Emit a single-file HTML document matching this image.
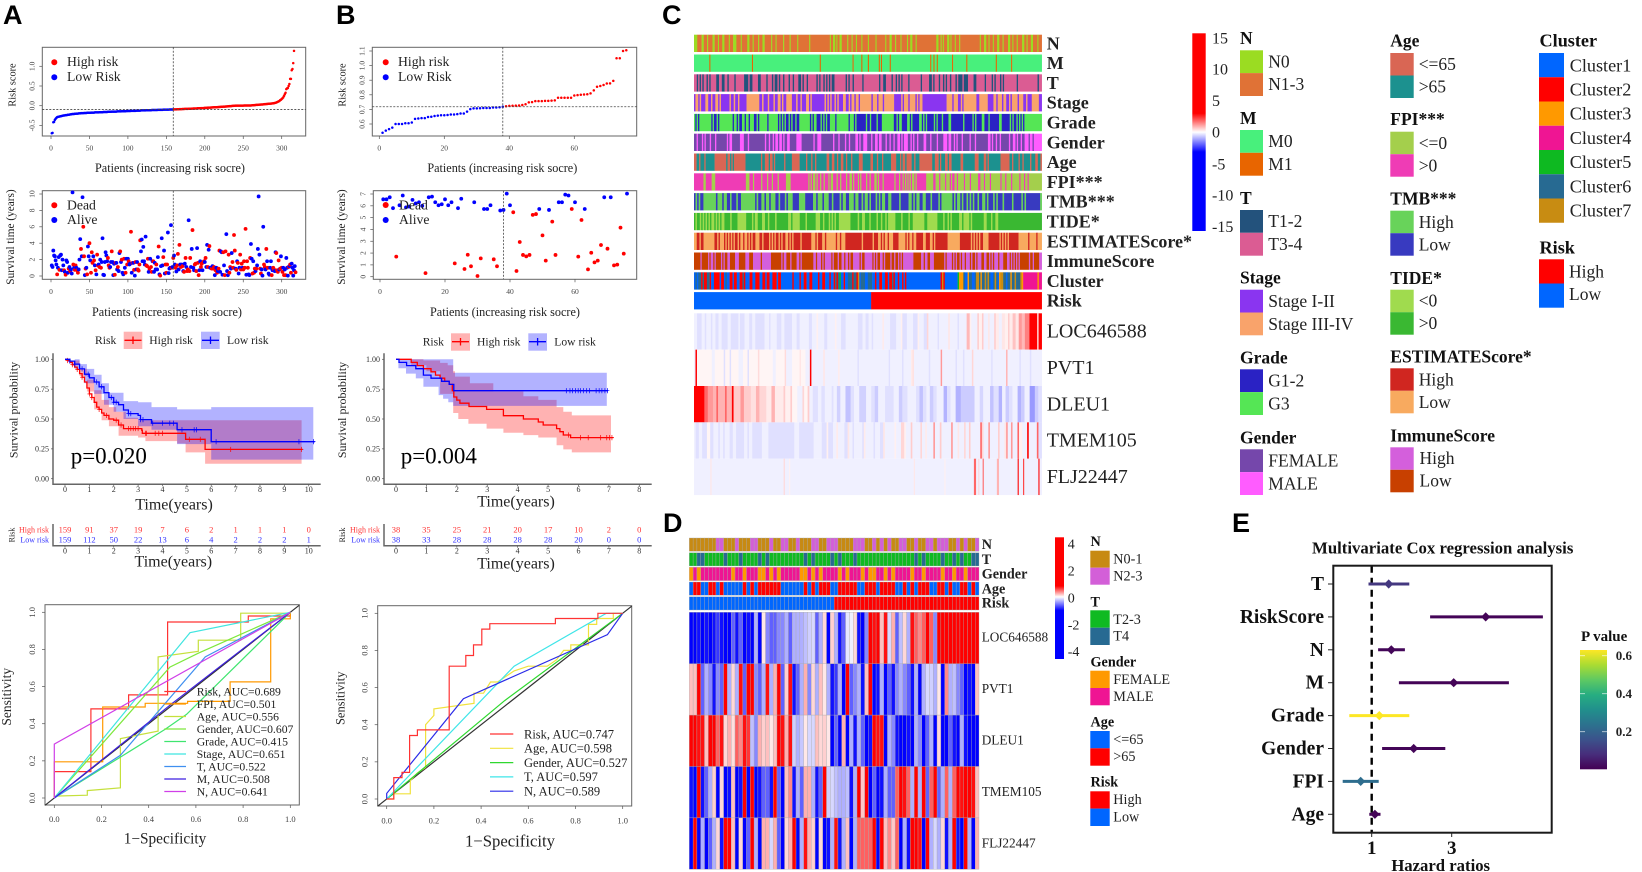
<!DOCTYPE html>
<html><head><meta charset="utf-8"><title>Risk model figure</title>
<style>
html,body{margin:0;padding:0;background:#fff}
svg{display:block}
text{font-family:"Liberation Serif",serif;fill:#222}
.let{font-family:"Liberation Sans",sans-serif;font-weight:700;font-size:27px;fill:#000}
.b{font-weight:700;fill:#111}
.ax12{font-size:12.2px}.ax{font-size:11.3px}.leg{font-size:13.7px}
.kml{font-size:11.6px}.t16{font-size:16px}.p{font-size:23px;fill:#000}
.r1{font-size:18px}.g1{font-size:20px}.l1{font-size:17.5px}.l2{font-size:18.2px}.cb{font-size:16px}
.d1{font-size:14.2px}.d2{font-size:13.3px}
.auc{font-size:11.7px}.aub{font-size:12.5px}
.m{text-anchor:middle}.e{text-anchor:end}
</style></head>
<body>
<svg id="fig" width="1642" height="872" viewBox="0 0 1642 872" xmlns="http://www.w3.org/2000/svg">
<rect width="1642" height="872" fill="#fff"/>
<g id="marks"></g>

<text class="let" x="3" y="24">A</text>
<text class="let" x="336" y="24">B</text>
<text class="let" x="662" y="24">C</text>
<text class="let" x="663" y="532">D</text>
<text class="let" x="1232" y="532">E</text>

<!-- Panel A static text -->
<text class="ax12 m" x="170" y="172">Patients (increasing risk socre)</text>
<text class="ax12 m" x="167" y="316">Patients (increasing risk socre)</text>
<text class="m" style="font-size:10.3px" transform="translate(15.7 85) rotate(-90)">Risk score</text>
<text class="ax m" transform="translate(14 237) rotate(-90)">Survival time (years)</text>
<circle cx="54.3" cy="62.3" r="3" fill="#f00"/>
<text class="leg" x="67" y="66">High risk</text>
<circle cx="54.3" cy="77.3" r="3" fill="#00f"/>
<text class="leg" x="67" y="81">Low Risk</text>
<circle cx="54.3" cy="205.3" r="3" fill="#f00"/>
<text class="leg" x="67" y="209.3">Dead</text>
<circle cx="54.3" cy="220" r="3" fill="#00f"/>
<text class="leg" x="67" y="224">Alive</text>

<text class="kml" x="95" y="344">Risk</text>
<rect x="123.7" y="331.7" width="18.6" height="17.3" fill="#ffb3b3"/>
<path d="M124.5 340.3H141.5M133 336.5V344" stroke="#f00" stroke-width="1.3" fill="none"/>
<text class="kml" x="149.3" y="344">High risk</text>
<rect x="201" y="331.7" width="18.7" height="17.3" fill="#b3b3ff"/>
<path d="M202 340.3H219M210.5 336.5V344" stroke="#00f" stroke-width="1.3" fill="none"/>
<text class="kml" x="227" y="344">Low risk</text>
<text class="m" style="font-size:12px" transform="translate(17.3 410) rotate(-90)">Survival probability</text>
<text class="p" x="70.7" y="463.3">p=0.020</text>
<text class="t16 m" x="174" y="509.3">Time(years)</text>
<text class="t16 m" x="173.3" y="566.7">Time(years)</text>
<text class="m" style="font-size:8px" transform="translate(14.3 535) rotate(-90)">Risk</text>
<text class="e" x="49" y="532.3" style="font-size:8px;fill:#f33">High risk</text>
<text class="e" x="49" y="542.3" style="font-size:8px;fill:#33f">Low risk</text>

<text class="m" style="font-size:15.3px" x="165" y="843.3">1−Specificity</text>
<text class="m" style="font-size:13.5px" transform="translate(11 696.7) rotate(-90)">Sensitivity</text>
<g class="auc">
<path d="M164.3 691.5H186" stroke="#f33" stroke-width="1.2" fill="none"/><text x="196.7" y="695.7">Risk, AUC=0.689</text>
<path d="M164.3 704H186" stroke="#f90" stroke-width="1.2" fill="none"/><text x="196.7" y="708.2">FPI, AUC=0.501</text>
<path d="M164.3 716.5H186" stroke="#c5e03c" stroke-width="1.2" fill="none"/><text x="196.7" y="720.7">Age, AUC=0.556</text>
<path d="M164.3 729H186" stroke="#7de83c" stroke-width="1.2" fill="none"/><text x="196.7" y="733.2">Gender, AUC=0.607</text>
<path d="M164.3 741.5H186" stroke="#3fe56f" stroke-width="1.2" fill="none"/><text x="196.7" y="745.7">Grade, AUC=0.415</text>
<path d="M164.3 754H186" stroke="#3fe5e0" stroke-width="1.2" fill="none"/><text x="196.7" y="758.2">Stage, AUC=0.651</text>
<path d="M164.3 766.5H186" stroke="#3f8ff0" stroke-width="1.2" fill="none"/><text x="196.7" y="770.7">T, AUC=0.522</text>
<path d="M164.3 779H186" stroke="#3f1fe0" stroke-width="1.2" fill="none"/><text x="196.7" y="783.2">M, AUC=0.508</text>
<path d="M164.3 791.5H186" stroke="#d03fe8" stroke-width="1.2" fill="none"/><text x="196.7" y="795.7">N, AUC=0.641</text>
</g>

<!-- Panel B static text -->
<text class="ax12 m" x="502.3" y="172">Patients (increasing risk socre)</text>
<text class="ax12 m" x="505" y="316">Patients (increasing risk socre)</text>
<text class="m" style="font-size:10.3px" transform="translate(345.7 85) rotate(-90)">Risk score</text>
<text class="ax m" transform="translate(345 237) rotate(-90)">Survival time (years)</text>
<circle cx="385.7" cy="62.3" r="3" fill="#f00"/>
<text class="leg" x="398" y="66">High risk</text>
<circle cx="385.7" cy="77.3" r="3" fill="#00f"/>
<text class="leg" x="398" y="81">Low Risk</text>
<circle cx="385.7" cy="205" r="3" fill="#f00"/>
<text class="leg" x="399" y="209.3">Dead</text>
<circle cx="385.7" cy="220" r="3" fill="#00f"/>
<text class="leg" x="399" y="224">Alive</text>

<text class="kml" x="422.7" y="345.7">Risk</text>
<rect x="451" y="333.3" width="19" height="17.4" fill="#ffb3b3"/>
<path d="M452 341.7H469M460.5 338V345.5" stroke="#f00" stroke-width="1.3" fill="none"/>
<text class="kml" x="477" y="345.7">High risk</text>
<rect x="528.3" y="333.3" width="18.7" height="17.4" fill="#b3b3ff"/>
<path d="M529 341.7H546M537.6 338V345.5" stroke="#00f" stroke-width="1.3" fill="none"/>
<text class="kml" x="554.3" y="345.7">Low risk</text>
<text class="m" style="font-size:12px" transform="translate(346 410) rotate(-90)">Survival probability</text>
<text class="p" x="400.7" y="463.3">p=0.004</text>
<text class="t16 m" x="516" y="506.7">Time(years)</text>
<text class="t16 m" x="516" y="568.3">Time(years)</text>
<text class="m" style="font-size:8px" transform="translate(345 535) rotate(-90)">Risk</text>
<text class="e" x="380" y="532.3" style="font-size:8px;fill:#f33">High risk</text>
<text class="e" x="380" y="542.3" style="font-size:8px;fill:#33f">Low risk</text>

<text class="m" style="font-size:16.7px" x="510" y="846.7">1−Specificity</text>
<text class="m" style="font-size:12.5px" transform="translate(344.3 698.3) rotate(-90)">Sensitivity</text>
<g class="aub">
<path d="M490 734H513.3" stroke="#f33" stroke-width="1.2" fill="none"/><text x="524" y="738.3">Risk, AUC=0.747</text>
<path d="M490 748.3H513.3" stroke="#f0e23c" stroke-width="1.2" fill="none"/><text x="524" y="752.6">Age, AUC=0.598</text>
<path d="M490 762.6H513.3" stroke="#2fd82f" stroke-width="1.2" fill="none"/><text x="524" y="766.9">Gender, AUC=0.527</text>
<path d="M490 776.9H513.3" stroke="#3fe5e8" stroke-width="1.2" fill="none"/><text x="524" y="781.2">T, AUC=0.597</text>
<path d="M490 791.2H513.3" stroke="#2a2ae8" stroke-width="1.2" fill="none"/><text x="524" y="795.5">N, AUC=0.589</text>
</g>

<!-- Panel C labels -->
<g class="b r1">
<text x="1046.7" y="49.3">N</text>
<text x="1046.7" y="69.1">M</text>
<text x="1046.7" y="88.9">T</text>
<text x="1046.7" y="108.7">Stage</text>
<text x="1046.7" y="128.5">Grade</text>
<text x="1046.7" y="148.3">Gender</text>
<text x="1046.7" y="168.1">Age</text>
<text x="1046.7" y="187.9">FPI***</text>
<text x="1046.7" y="207.7">TMB***</text>
<text x="1046.7" y="227.5">TIDE*</text>
<text x="1046.7" y="247.3">ESTIMATEScore*</text>
<text x="1046.7" y="267.1">ImmuneScore</text>
<text x="1046.7" y="286.9">Cluster</text>
<text x="1046.7" y="306.7">Risk</text>
</g>
<g class="g1">
<text x="1046.7" y="337.7">LOC646588</text>
<text x="1046.7" y="374">PVT1</text>
<text x="1046.7" y="410.3">DLEU1</text>
<text x="1046.7" y="446.6">TMEM105</text>
<text x="1046.7" y="482.9">FLJ22447</text>
</g>
<defs>
<linearGradient id="cbC" x1="0" y1="0" x2="0" y2="1"><stop offset="0" stop-color="#f00"/><stop offset=".405" stop-color="#f00"/><stop offset=".5" stop-color="#fff"/><stop offset=".6" stop-color="#00f"/><stop offset="1" stop-color="#00f"/></linearGradient>
<linearGradient id="cbD" x1="0" y1="0" x2="0" y2="1"><stop offset="0" stop-color="#f00"/><stop offset=".4" stop-color="#f00"/><stop offset=".49" stop-color="#fff"/><stop offset=".6" stop-color="#00f"/><stop offset="1" stop-color="#00f"/></linearGradient>
<linearGradient id="cbE" x1="0" y1="1" x2="0" y2="0"><stop offset="0" stop-color="#440154"/><stop offset=".125" stop-color="#472d7b"/><stop offset=".25" stop-color="#3b528b"/><stop offset=".375" stop-color="#2c728e"/><stop offset=".5" stop-color="#21908c"/><stop offset=".625" stop-color="#27ad81"/><stop offset=".75" stop-color="#5ec962"/><stop offset=".875" stop-color="#aadc32"/><stop offset="1" stop-color="#fde725"/></linearGradient>
</defs>
<rect x="1192.3" y="33.3" width="13.4" height="197.7" fill="url(#cbC)"/>
<g class="cb">
<text x="1212" y="43.3">15</text>
<text x="1212" y="74.5">10</text>
<text x="1212" y="106">5</text>
<text x="1212" y="137.3">0</text>
<text x="1212" y="169.3">-5</text>
<text x="1212" y="200.7">-10</text>
<text x="1212" y="232">-15</text>
</g>

<!-- Panel C legend -->
<g class="l1">
<text class="b" x="1240" y="44">N</text>
<rect x="1240" y="50.3" width="23" height="22.8" fill="#9bdc22"/><rect x="1240" y="73.1" width="23" height="22.9" fill="#e07236"/>
<text x="1268.3" y="67.3">N0</text><text x="1268.3" y="90">N1-3</text>
<text class="b" x="1240" y="124">M</text>
<rect x="1240" y="130" width="23" height="22.8" fill="#48f07c"/><rect x="1240" y="152.8" width="23" height="22.9" fill="#e86500"/>
<text x="1268.3" y="147">M0</text><text x="1268.3" y="170">M1</text>
<text class="b" x="1240" y="204">T</text>
<rect x="1240" y="210" width="23" height="22.8" fill="#23527c"/><rect x="1240" y="232.8" width="23" height="22.9" fill="#db5c93"/>
<text x="1268.3" y="227">T1-2</text><text x="1268.3" y="250">T3-4</text>
<text class="b" x="1240" y="283.3">Stage</text>
<rect x="1240" y="289.7" width="23" height="22.8" fill="#8a35f0"/><rect x="1240" y="312.5" width="23" height="22.8" fill="#f9a36b"/>
<text x="1268.3" y="307">Stage I-II</text><text x="1268.3" y="330">Stage III-IV</text>
<text class="b" x="1240" y="363.7">Grade</text>
<rect x="1240" y="369.3" width="23" height="22.8" fill="#2a22c4"/><rect x="1240" y="392.1" width="23" height="22.9" fill="#55e655"/>
<text x="1268.3" y="386.5">G1-2</text><text x="1268.3" y="409.5">G3</text>
<text class="b" x="1240" y="443.7">Gender</text>
<rect x="1240" y="449.3" width="23" height="22.8" fill="#7547ab"/><rect x="1240" y="472.1" width="23" height="22.9" fill="#ff5cff"/>
<text x="1268.3" y="466.5">FEMALE</text><text x="1268.3" y="489.5">MALE</text>

<text class="b" x="1390.3" y="46.7">Age</text>
<rect x="1390.3" y="53" width="23.4" height="22.5" fill="#d96654"/><rect x="1390.3" y="75.5" width="23.4" height="22.5" fill="#1c918f"/>
<text x="1418.7" y="70">&lt;=65</text><text x="1418.7" y="92.5">&gt;65</text>
<text class="b" x="1390.3" y="125">FPI***</text>
<rect x="1390.3" y="131.7" width="23.4" height="22.5" fill="#a4cf4c"/><rect x="1390.3" y="154.2" width="23.4" height="22.5" fill="#ef3cb5"/>
<text x="1418.7" y="149">&lt;=0</text><text x="1418.7" y="171.5">&gt;0</text>
<text class="b" x="1390.3" y="204.3">TMB***</text>
<rect x="1390.3" y="210.7" width="23.4" height="22.5" fill="#68d35a"/><rect x="1390.3" y="233.2" width="23.4" height="22.5" fill="#383ac0"/>
<text x="1418.7" y="228">High</text><text x="1418.7" y="250.5">Low</text>
<text class="b" x="1390.3" y="284">TIDE*</text>
<rect x="1390.3" y="289.7" width="23.4" height="22.5" fill="#a0db4e"/><rect x="1390.3" y="312.2" width="23.4" height="22.5" fill="#3ab832"/>
<text x="1418.7" y="306.5">&lt;0</text><text x="1418.7" y="329">&gt;0</text>
<text class="b" x="1390.3" y="362.3">ESTIMATEScore*</text>
<rect x="1390.3" y="368.3" width="23.4" height="22.5" fill="#d02620"/><rect x="1390.3" y="390.8" width="23.4" height="22.5" fill="#f8aa5f"/>
<text x="1418.7" y="385.5">High</text><text x="1418.7" y="408">Low</text>
<text class="b" x="1390.3" y="441.7">ImmuneScore</text>
<rect x="1390.3" y="447.3" width="23.4" height="22.5" fill="#d45fdc"/><rect x="1390.3" y="469.8" width="23.4" height="22.5" fill="#c84000"/>
<text x="1419.5" y="464">High</text><text x="1419.5" y="486.5">Low</text>

<text class="b l2" x="1539.5" y="46.7">Cluster</text>
<rect x="1539" y="53" width="25" height="24.25" fill="#0066ff"/>
<rect x="1539" y="77.25" width="25" height="24.25" fill="#ff0000"/>
<rect x="1539" y="101.5" width="25" height="24.25" fill="#ff9900"/>
<rect x="1539" y="125.75" width="25" height="24.25" fill="#ef1593"/>
<rect x="1539" y="150" width="25" height="24.25" fill="#0eb921"/>
<rect x="1539" y="174.25" width="25" height="24.25" fill="#276a92"/>
<rect x="1539" y="198.5" width="25" height="24.25" fill="#c88c12"/>
<g class="l2">
<text x="1569.7" y="71.3">Cluster1</text>
<text x="1569.7" y="95.5">Cluster2</text>
<text x="1569.7" y="119.7">Cluster3</text>
<text x="1569.7" y="144">Cluster4</text>
<text x="1569.7" y="168.2">Cluster5</text>
<text x="1569.7" y="192.5">Cluster6</text>
<text x="1569.7" y="216.7">Cluster7</text>
</g>
<text class="b l2" x="1539.5" y="253.3">Risk</text>
<rect x="1539" y="259.3" width="25" height="24.2" fill="#ff0000"/><rect x="1539" y="283.5" width="25" height="24.2" fill="#0066ff"/>
<text x="1569" y="277.7">High</text><text x="1569" y="300">Low</text>
</g>

<!-- Panel D labels -->
<g class="b d1">
<text x="981.7" y="549">N</text>
<text x="981.7" y="564">T</text>
<text x="981.7" y="578.3">Gender</text>
<text x="981.7" y="593.3">Age</text>
<text x="981.7" y="607.3">Risk</text>
</g>
<g class="d2">
<text x="981.7" y="641.7">LOC646588</text>
<text x="981.7" y="693.2">PVT1</text>
<text x="981.7" y="744.7">DLEU1</text>
<text x="981.7" y="796.2">TMEM105</text>
<text x="981.7" y="847.7">FLJ22447</text>
</g>
<rect x="1055" y="537.3" width="9" height="121.7" fill="url(#cbD)"/>
<g style="font-size:14px">
<text x="1067.7" y="548.3">4</text>
<text x="1067.7" y="575.3">2</text>
<text x="1067.7" y="602.3">0</text>
<text x="1067.7" y="629.3">-2</text>
<text x="1067.7" y="656">-4</text>
</g>
<g class="d1">
<text class="b" x="1090.5" y="546">N</text>
<rect x="1090.3" y="550.7" width="19.4" height="17" fill="#c78a13"/><rect x="1090.3" y="567.7" width="19.4" height="17" fill="#d35fd8"/>
<text x="1113.3" y="563.3">N0-1</text><text x="1113.3" y="580.3">N2-3</text>
<text class="b" x="1090.5" y="606.7">T</text>
<rect x="1090.3" y="610.3" width="19.4" height="17.4" fill="#0fba22"/><rect x="1090.3" y="627.7" width="19.4" height="17.3" fill="#276a92"/>
<text x="1113.3" y="624">T2-3</text><text x="1113.3" y="640.7">T4</text>
<text class="b" x="1090.5" y="666.7">Gender</text>
<rect x="1090.3" y="670.7" width="19.4" height="17.3" fill="#ff9900"/><rect x="1090.3" y="688" width="19.4" height="17.3" fill="#ef1593"/>
<text x="1113.3" y="684">FEMALE</text><text x="1113.3" y="701">MALE</text>
<text class="b" x="1090.5" y="726.7">Age</text>
<rect x="1090.3" y="731" width="19.4" height="17.3" fill="#0066ff"/><rect x="1090.3" y="748.3" width="19.4" height="17.4" fill="#ff0000"/>
<text x="1113.3" y="744">&lt;=65</text><text x="1113.3" y="761">&gt;65</text>
<text class="b" x="1090.5" y="786.7">Risk</text>
<rect x="1090.3" y="791.3" width="19.4" height="17.3" fill="#ff0000"/><rect x="1090.3" y="808.6" width="19.4" height="17.4" fill="#0066ff"/>
<text x="1113.3" y="804">High</text><text x="1113.3" y="821.7">Low</text>
</g>

<!-- Panel E static -->
<text class="b m" style="font-size:16.75px" x="1442.7" y="553.3">Multivariate Cox regression analysis</text>
<text class="b m" style="font-size:16.7px" x="1440.7" y="871">Hazard ratios</text>
<text class="b" style="font-size:15px" x="1581" y="641">P value</text>
<rect x="1580" y="650" width="27" height="119.3" fill="url(#cbE)"/>
<path d="M1580 655.7h5M1602 655.7h5M1580 693.7h5M1602 693.7h5M1580 731.7h5M1602 731.7h5" stroke="#fff" stroke-opacity=".7" stroke-width=".8" fill="none"/>
<g class="b" style="font-size:13px">
<text x="1615.7" y="660">0.6</text>
<text x="1615.7" y="698">0.4</text>
<text x="1615.7" y="736">0.2</text>
</g>
</svg>

<script>
/* ---------- Panel A data ---------- */
const riskA = [-.70,-.69,-.42,-.41,-.36,-.33,-.31,-.29,-.285,-.28,-.275,-.27,-.265,-.26,-.255,-.25,-.25,-.245,-.24,-.24,
-.235,-.23,-.23,-.225,-.22,-.22,-.215,-.21,-.21,-.21,-.205,-.205,-.20,-.20,-.20,-.195,-.195,-.195,-.19,-.19,
-.19,-.19,-.185,-.185,-.185,-.185,-.18,-.18,-.18,-.18,-.18,-.175,-.175,-.175,-.175,-.175,-.17,-.17,-.17,-.17,
-.17,-.17,-.165,-.165,-.165,-.165,-.165,-.16,-.16,-.16,-.16,-.16,-.16,-.155,-.155,-.155,-.155,-.155,-.15,-.15,
-.15,-.15,-.15,-.15,-.15,-.145,-.145,-.145,-.145,-.145,-.145,-.14,-.14,-.14,-.14,-.14,-.14,-.135,-.135,-.135,
-.135,-.135,-.135,-.13,-.13,-.13,-.13,-.13,-.13,-.13,-.125,-.125,-.125,-.125,-.125,-.125,-.12,-.12,-.12,-.12,
-.12,-.12,-.12,-.115,-.115,-.115,-.115,-.115,-.115,-.115,-.11,-.11,-.11,-.11,-.11,-.11,-.11,-.11,-.105,-.105,
-.105,-.105,-.105,-.105,-.105,-.10,-.10,-.10,-.10,-.10,-.10,-.10,-.10,-.098,-.098,-.096,-.096,-.095,-.095,
-.094,-.094,-.092,-.092,-.09,-.09,-.09,-.088,-.088,-.086,-.086,-.085,-.085,-.084,-.082,-.082,-.08,-.08,-.08,-.078,-.078,
-.076,-.076,-.075,-.074,-.072,-.072,-.07,-.07,-.07,-.068,-.066,-.066,-.065,-.064,-.062,-.06,-.06,-.06,-.058,-.056,
-.055,-.054,-.052,-.05,-.05,-.05,-.048,-.046,-.045,-.044,-.042,-.04,-.04,-.04,-.038,-.036,-.035,-.034,-.032,-.03,
-.03,-.028,-.026,-.025,-.024,-.022,-.02,-.02,-.018,-.016,-.015,-.012,-.01,-.01,-.008,-.005,-.004,0,0,.002,
.002,.002,.002,.003,.003,.003,.003,.003,.003,.003,.004,.004,.004,.004,.004,.004,.004,.004,
.004,.006,.008,.01,.012,.014,.016,.018,.02,.02,.022,.024,.026,.028,.03,.03,.032,.034,.036,.04,
.04,.042,.044,.046,.05,.05,.052,.054,.056,.06,.06,.065,.07,.075,.08,.09,.10,.11,.12,.14,
.15,.17,.19,.21,.25,.29,.33,.42,.44,.45,.50,.55,.68,.68,.90,.93,1.08,1.39];
const survTimeA = [1.3,1.1,3.1,2.5,2.4,1.9,1.4,.2,1,2.3,
.75,2.5,2.6,.7,2,1.3,.7,.5,.15,1.9,
1.7,.4,.9,1.1,.6,.8,.3,10.2,1.4,1,
.75,1.3,1,.7,.4,.8,2,4.5,3.3,2.4,
9.6,6,2.4,.1,.9,1,.2,3.6,2.4,4,
1.9,.4,2.9,1.6,2.4,1.9,1.3,.7,.2,2.6,
1.3,1.4,1.1,2,1,1.7,4.6,.15,.1,1.7,
2.9,2.5,1.8,2.2,1.3,1,1.1,1.7,3,1.7,
.1,1.5,.15,1.6,1.6,.8,1.1,.6,2.8,3,
1.7,2,.4,.2,2.1,1,.4,2.1,1.4,2.1,
1.8,1.4,1.5,5.4,.4,1.6,1.6,.75,.05,1.7,
.8,1.7,.8,.65,1.4,4.35,3,4.45,1.8,3.55,
1.8,1.4,4.8,1.3,1.2,2.1,.5,.9,2.1,1.1,
.5,1.8,1.8,.5,1.6,.8,1.4,.8,2.3,3.6,
.2,.05,1.2,4.6,1.3,2.3,3.1,.3,1.4,.4,
1.4,5.3,.35,.9,1,6.2,1,1.1,2.2,2.5,
1.4,1,.55,1.3,2.7,.8,3.8,1.4,1.1,1.4,
1.2,.6,.5,1.5,2.2,1.1,.6,.8,6.8,.6,
2.2,1.1,3.3,5.6,1,.7,1.4,1.5,.6,3.4,
1.6,.1,.7,1.8,1.1,1.5,.7,1.7,1.8,1.7,
2.2,1.1,3.8,1.1,3.2,3.65,1,1,.9,1.2,
.9,1.1,.1,.7,1,.4,.6,.9,3.1,.5,
3,2.9,.15,2.9,1.3,.1,3,5.1,.6,.1,
2.6,.4,1.1,.9,2.8,1.7,1,5,3.1,.9,
.75,1.8,1.6,.3,1,2.6,.8,1.5,1,.8,
1.8,1,5.75,.15,1.8,1,.2,.1,2.2,3.9,
2.1,.3,1.8,.4,.9,.6,.9,1.3,3.3,9.7,
2.6,.9,.3,.8,.05,6,1.4,1.1,.8,3.3,
1.8,1,.3,.15,1,1.8,.1,.7,1,.8,
.6,2.9,2.8,.7,.5,1.9,.8,.9,2.4,1,
.5,1,.1,.8,.1,2.2,1,.05,1.1,1.2,
1.4,.4,1.5,1,.05,.7,1.2,.45];
const survDeadA = "0000000100"+"1000001010"+"0010100010"+"1101100010"+"0110101001"+"0111010101"+"1010100000"+"0001110010"+"0011001001"+"0100101010"+
"1001010101"+"0011110000"+"0001110101"+"1010001001"+"0100010011"+"1000001010"+"0101101010"+"1010101101"+"1001001110"+"1100110110"+
"1001010010"+"1101010110"+"0001011000"+"1110011110"+"1010011101"+"1110110010"+"0101101000"+"0110001101"+"0100001011"+"0011110101"+"1010100010"+"11000001".padEnd(8,'1');
const riskTicksA = [0,50,100,150,200,250,300];
const riskYTicksA = [-0.5,0,0.5,1];
const survYTicksA = [0,2,4,6,8,10];
const kmHighTimeA = [0,.1,.2,.3,.4,.5,.6,.7,.8,.9,1,1.1,1.2,1.3,1.4,1.5,1.6,1.8,2,2.2,2.4,3.15,3.17,4.95,5.75];
const kmHighSurvA = [1,.99,.975,.955,.935,.915,.88,.85,.81,.76,.71,.68,.64,.60,.58,.55,.53,.50,.49,.45,.42,.405,.38,.33,.245];
const kmLowTimeA = [0,.2,.4,.6,.8,1,1.2,1.4,1.6,1.8,2,2.2,2.4,2.6,3,3.1,3.55,4.6,6];
const kmLowSurvA = [1,.985,.96,.92,.875,.845,.81,.77,.72,.68,.64,.62,.575,.545,.53,.495,.465,.41,.31];
const kmHighUpTimeA = [0,.3,.6,.9,1.2,1.5,1.8,2.1,2.5,3];
const kmHighUpSurvA = [1,.99,.92,.83,.74,.66,.6,.56,.51,.49];
const kmHighLoTimeA = [0,.3,.6,.9,1.2,1.5,1.8,2.2,3,3.3,4.6,4.95,5.75];
const kmHighLoSurvA = [1,.95,.86,.73,.58,.49,.44,.36,.345,.315,.295,.22,.125];
const kmLowUpTimeA = [0,.3,.6,.9,1.2,1.5,1.8,2.4,3,3.55,4.6,6];
const kmLowUpSurvA = [1,1,.96,.92,.87,.8,.72,.65,.64,.60,.58,.6];
const kmLowLoTimeA = [0,.4,.8,1.2,1.6,2,2.4,3,3.55,4.6,6];
const kmLowLoSurvA = [1,.92,.8,.71,.62,.56,.5,.44,.41,.29,.16];
const censorHighA = [.1,.3,.5,.7,1,1.1,1.4,1.7,2.1,2.3,2.6,2.7,2.8,2.9,3,3.3,3.35,3.7,3.85,4,5.1,5.55,6.8,9.7];
const censorLowA = [.2,.4,.7,.95,1.3,1.5,1.9,2,2.1,2.6,2.7,3.1,3.2,3.6,4,4.3,4.45,4.8,5.3,5.4,6.2,9.6,10.2];
const tableTimesA = [0,1,2,3,4,5,6,7,8,9,10];
const atRiskHighA = [159,91,37,19,7,6,2,1,1,1,0];
const atRiskLowA = [159,112,50,22,13,6,4,2,2,2,1];
const rocRiskAx = [0,0,.155,.155,.315,.315,.48,.48,.822,.822,1,1];
const rocRiskAy = [0,.142,.142,.48,.48,.555,.555,.948,.948,.98,.98,1];
const rocFpiAx = [0,0,.205,.205,.385,.385,.565,.565,.745,.745,.917,.917,1,1];
const rocFpiAy = [0,.195,.195,.49,.49,.51,.51,.52,.52,.625,.625,.965,.965,1];
const rocAgeAx = [0,0,.14,.14,.28,.28,.44,.44,.61,.61,.79,.79,1,1];
const rocAgeAy = [0,.01,.015,.04,.055,.32,.36,.76,.79,.85,.85,.995,.995,1];
const rocGenderAx = [0,.49,.61,1];
const rocGenderAy = [0,.705,.78,1];
const rocGradeAx = [0,.28,.47,.56,1];
const rocGradeAy = [0,.22,.37,.45,1];
const rocStageAx = [0,.575,1];
const rocStageAy = [0,.89,1];
const rocTAx = [0,.28,.64,1];
const rocTAy = [0,.23,.76,1];
const rocMAx = [0,.5,1];
const rocMAy = [0,.51,1];
const rocNAx = [0,0,1];
const rocNAy = [0,.29,1];

/* ---------- Panel B data ---------- */
const riskB = [.54,.555,.565,.575,.6,.6,.6,.605,.605,.61,.635,.638,.64,.64,.648,.65,.655,.657,.66,.66,.662,.665,.665,.668,.672,.672,.685,.702,.707,.707,.708,.71,.71,.71,.713,.713,.715,.718,
.722,.724,.725,.726,.727,.73,.735,.748,.75,.757,.757,.757,.758,.758,.76,.762,.78,.78,.78,.78,.78,.795,.798,.8,.802,.804,.81,.83,.855,.86,.867,.877,.878,.895,1.05,1.05,1.1,1.105];
const survPatientB = [1,2,3,4,6,7,8,9,10,11,12,13,15,16,17,18,19,20,21,22,24,25,29,32,33,34,37,38,39,40,49,52,55,56,57,58,60,63,69,71,76,5,14,23,26,27,28,30,31,35,36,41,42,43,44,45,46,47,48,50,51,53,54,59,61,62,64,65,66,67,68,70,72,73,74,75];
const survTimeB = [6.55,6.55,6.72,5.8,6.05,6.87,5.87,5.93,6.5,6.2,6.3,6,6.72,6.78,6.3,6.05,6.13,6.55,6.05,6.3,5.8,6.6,6.3,5.73,5.73,6.05,5.6,5.65,7.03,6.05,5.73,5.65,6.3,6.3,6.95,6.87,6.3,5.73,6.72,6.72,7.03,1.7,.3,1.13,.65,1.86,.88,.06,1.55,1.47,.88,5.45,.48,2.94,1.84,1.72,1.84,5.23,5.3,3.5,1.36,4.66,1.84,5.73,1.7,4.8,.62,2.03,1.21,1.36,2.68,2.37,.96,1.02,4.15,1.95];
const survDeadCountStartB = 41;
const riskTicksB = [0,20,40,60];
const riskYTicksB = [.6,.7,.8,.9,1,1.1];
const survYTicksB = [0,1,2,3,4,5,6,7];
const kmHighTimeB = [0,.5,.7,.9,1.15,1.3,1.45,1.6,1.75,1.85,1.9,2,2.1,2.4,2.98,3.53,4.19,4.68,4.84,5.28,5.39,5.5,5.74];
const kmHighSurvB = [1,.974,.947,.921,.895,.868,.842,.816,.79,.737,.684,.658,.632,.605,.58,.528,.5,.475,.45,.42,.394,.366,.344];
const kmLowTimeB = [0,.1,.35,.65,.9,1.15,1.5,1.75,1.9];
const kmLowSurvB = [1,.974,.947,.921,.868,.842,.816,.79,.737];
const kmHighUpTimeB = [0,.45,.9,1.45,1.7,1.88,1.94,2.43,3.2,4.19,4.68,5.28,5.5,5.78];
const kmHighUpSurvB = [1,1,.99,.97,.95,.9,.855,.8,.73,.69,.66,.6,.56,.53];
const kmHighLoTimeB = [0,.5,1,1.45,1.88,2.05,2.38,2.98,3.53,4.19,4.68,5.28,5.5,5.78];
const kmHighLoSurvB = [1,.95,.9,.71,.55,.5,.46,.42,.385,.365,.345,.28,.245,.22];
const kmLowUpTimeB = [0,1,1.88];
const kmLowUpSurvB = [1,1,.888];
const kmLowLoTimeB = [0,.08,.33,.65,.9,1.4,1.55,1.72,1.88];
const kmLowLoSurvB = [1,.925,.88,.84,.77,.70,.67,.64,.61];
const censorHighB = [5.67,6.07,6.32,6.73,6.93,7.02,7.1];
const censorLowB = [5.6,5.72,5.8,5.9,5.99,6.07,6.16,6.27,6.36,6.58,6.68,6.77,6.87,6.95];
const tableTimesB = [0,1,2,3,4,5,6,7,8];
const atRiskHighB = [38,35,25,21,20,17,10,2,0];
const atRiskLowB = [38,33,28,28,28,28,20,0,0];
const rocRiskBx = [0,.03,.03,.065,.065,.097,.097,.13,.13,.265,.265,.335,.335,.368,.368,.403,.403,.437,.437,.715,.715,.895,.895,1];
const rocRiskBy = [0,0,.115,.115,.143,.143,.342,.342,.372,.372,.715,.715,.773,.773,.83,.83,.915,.915,.944,.944,.972,.972,1,1];
const rocAgeBx = [0,.03,.03,.1,.1,.13,.165,.165,.2,.2,.37,.37,.41,.44,.47,.54,.6,.68,.72,.75,.78,.78,.855,.855,.89,.89,.96,.96,1];
const rocAgeBy = [0,0,.028,.028,.1,.14,.17,.4,.45,.485,.515,.57,.57,.63,.63,.69,.715,.715,.75,.8,.8,.83,.83,.94,.94,.972,.972,1,1];
const rocGenderBx = [0,.5,1];
const rocGenderBy = [0,.53,1];
const rocTBx = [0,.54,.93,1];
const rocTBy = [0,.715,1,1];
const rocNBx = [0,0,.325,.935,1];
const rocNBy = [0,.03,.54,.885,1];

/* ---------- Panel C data: run lengths, categories alternate ---------- */
const runsN = [3,4,2,3,1,4,2,3,1,3,2,4,1,3,3,4,1,5,2,3,1,4,1,3,2,6,1,3,1,6,1,5,1,6,1,10,1,18,1,2,2,1,1,2,2,5,1,3,1,3,1,4,1,5,1,6,1,8,1,3,2,3,1,4,1,5,1,2,2,3,1,18,2,2,1,1,1,3,2,1,1,3,1,3,1,18,1,3,2,2,1,3,1,3,2,3,1,4,2,2,1,3,1,4,2,2,1,3,2,4,1,3];
const runsM = [14,1,38,1,61,1,29,1,7,1,5,1,9,1,1,1,7,1,36,1,2,1,2,1,13,1,12,1,26,1,13,1,27];
const runsT = [2,1,1,1,1,1,2,1,1,1,4,2,2,2,2,1,4,1,6,3,1,2,4,2,4,1,3,1,1,2,1,1,2,1,3,1,2,1,3,2,1,1,2,1,6,1,1,1,2,1,1,1,1,1,1,2,8,1,1,1,2,1,6,1,11,1,2,2,4,1,2,1,1,1,1,1,4,1,8,1,5,2,1,1,3,1,2,1,1,1,2,1,3,1,1,3,1,3,4,2,6,1,4,1,1,1,3,1,1,1,9,1,14,1,2];
const runsStage = [1,2,1,1,3,2,2,1,2,2,1,1,6,1,2,1,2,1,5,9,2,1,3,1,3,1,2,2,1,1,2,4,3,1,2,1,3,2,1,1,9,1,1,1,1,1,2,1,1,1,3,2,2,1,1,2,1,2,1,8,1,3,1,3,1,7,5,1,1,3,1,4,1,1,1,2,17,4,1,3,2,1,1,9,2,6,4,2,1,3,1,2,2,1,1,4,1,3,2,1,3,5,2];
const runsGrade = [1,1,1,1,9,1,1,2,1,1,10,1,2,1,1,2,2,1,2,1,3,2,1,1,6,1,7,1,1,1,1,1,1,2,1,1,1,2,1,2,8,1,1,1,2,3,1,1,1,1,1,2,4,1,9,1,3,1,1,7,1,2,1,4,1,3,9,2,1,1,2,4,2,1,1,5,2,1,1,1,1,5,1,1,1,3,1,4,2,9,1,6,1,1,1,4,2,3,1,7,2,6,1,1,1,2,1,1,1,1,1,1,13];
const runsGender = [2,1,3,1,1,1,3,1,3,1,8,1,1,2,6,3,3,1,12,1,2,1,2,1,1,2,1,2,1,1,2,2,5,4,9,1,2,3,9,1,3,1,4,1,2,1,4,2,1,1,2,3,3,1,2,2,1,2,3,1,2,1,2,1,2,2,1,1,1,3,2,1,1,1,2,1,4,2,3,1,4,1,4,3,1,2,2,1,1,1,3,1,5,1,3,1,9,2,1,1,2,1,2,1,6,1,2,2,1,1,2,1,2,3,1,2,1,6];
const runsAge = [2,2,1,3,1,7,9,1,2,1,1,1,9,12,1,2,3,1,2,1,1,7,1,5,6,5,1,3,1,2,1,8,2,2,2,2,1,2,2,2,1,3,1,5,3,6,2,3,1,3,1,6,4,3,1,1,2,1,4,2,1,3,10,2,3,1,1,3,2,1,2,7,2,9,3,4,2,1,1,9,7,2,1,4,1,2,1,5,1,3,2,2,1];
const runsFpi = [8,2,5,3,26,3,3,1,6,1,4,1,3,1,4,1,6,4,15,1,1,1,1,2,1,1,2,1,2,1,3,1,1,2,3,1,2,1,4,1,2,2,1,1,3,1,1,1,4,1,2,1,3,2,1,1,3,1,9,1,3,1,2,1,1,1,1,1,1,1,1,2,1,1,8,6,2,3,1,4,1,3,1,1,2,2,1,5,1,4,1,6,2,3,1,4,1,8,1,3,1,4,1,6,1,3,1,2,1,11];
const runsTmb = [1,1,1,1,2,8,1,3,1,2,2,1,3,1,2,9,1,1,2,2,1,2,1,3,2,1,3,1,1,3,4,4,5,2,1,3,1,3,2,1,4,1,1,2,2,3,1,2,2,1,1,2,1,1,3,1,1,1,1,2,2,2,5,1,5,2,1,1,1,2,2,2,3,1,4,1,1,7,1,1,1,2,1,1,2,1,1,1,1,1,2,1,2,2,1,1,3,1,1,1,3,1,5,1,5,1,1,1,9,1];
const runsTide = [1,1,2,1,1,1,1,1,1,1,1,2,1,1,1,1,1,2,4,1,4,6,4,1,1,2,3,2,2,1,4,1,8,2,1,5,4,1,6,3,2,1,3,1,1,1,1,1,2,8,5,1,2,2,3,1,4,1,2,1,2,1,1,5,4,1,4,1,2,8,2,7,4,1,2,1,1,1,5,2,1,4,1,1,8,2,3,1,2,2,30];
const runsEst = [2,2,1,2,8,2,1,1,3,1,1,1,1,1,1,1,1,2,1,1,2,1,2,1,1,1,1,2,3,2,1,4,1,1,1,1,1,2,1,1,1,2,2,1,1,1,1,5,1,7,3,1,1,3,2,1,7,1,2,1,3,12,1,7,1,3,2,1,1,1,2,1,3,4,5,1,1,1,2,1,2,5,2,3,2,1,1,9,9,8,1,1,1,1,1,1,1,2,4,8,1,1,1,1,1,1,1,7,7,1,5,1,3];
const runsImmune = [5,1,5,1,1,2,1,1,4,1,1,1,2,2,4,3,5,3,3,6,1,7,8,1,1,2,3,1,4,2,1,1,9,2,1,3,1,1,1,5,1,1,3,1,2,2,1,2,1,1,2,5,1,1,2,6,1,1,1,1,2,2,1,1,4,1,2,1,2,1,1,1,1,8,6,2,1,2,2,3,8,1,1,4,1,1,1,1,2,1,1,2,1,3,1,1,2,1,1,3,2,2,2,1,1,1,1,3,1,3,3,2,1,1,1,1,1,1,1,1,7,1,2,1,4,2];
const catRunsCluster = [0,1,5,1,0,1,5,2,1,1,5,1,1,2,5,2,1,1,0,2,1,4,0,1,1,2,0,1,5,1,0,2,1,2,0,1,1,2,0,2,1,2,5,1,1,1,0,3,1,2,0,2,1,3,0,2,1,2,0,1,1,2,0,2,1,3,0,1,1,2,0,8,1,1,0,4,1,1,0,2,1,2,0,2,1,2,0,4,1,1,0,2,1,2,0,3,1,1,0,2,1,1,5,1,1,1,5,1,4,1,0,2,1,1,0,2,5,3,1,1,5,2,1,1,6,1,0,1,5,3,0,2,5,3,0,2,1,1,0,2,1,2,0,2,1,2,0,1,1,2,5,1,1,1,0,2,1,1,0,2,1,1,0,1,1,1,0,24,1,1,6,1,1,1,0,9,4,1,2,3,5,1,0,2,2,1,5,2,0,2,5,1,6,2,5,1,2,1,5,2,6,1,5,1,6,1,5,1,0,2,5,1,6,1,5,1,0,1,2,1,6,2,5,2,0,1,5,2,2,1,5,2,6,1,5,3,6,1,2,1,3,10,2,1,3,2];
const catRunsRisk = [0,162,1,156];
const exprLoc = [-.3,2,-.6,3,-.3,2,-.6,1,-.3,3,-.6,1,-.3,2,-.6,2,-.3,2,-.6,4,-.3,2,-.6,5,-.3,1,-.6,3,-.3,3,-.6,2,-.3,2,-.6,6,-.3,3,-.6,1,-.3,4,-.6,3,-.3,2,-.6,5,-.3,3,-.6,2,-.3,6,-.6,2,-.3,3,.3,1,-.3,4,-.6,2,-.3,5,.3,1,-.3,3,-.6,3,-.3,8,-.6,3,-.3,2,-.6,2,-.3,2,-.6,1,-.3,6,.4,1,-.3,4,-.6,4,-.3,3,.3,1,-.6,3,-.3,4,-.6,3,.3,1,-.3,3,-.6,2,.8,1,-.3,6,-.6,1,-.3,6,.5,1,-.3,5,-.6,1,-.3,5,1.4,2,.3,1,-.3,4,1,1,.3,2,1,1,-.3,3,.5,1,-.3,3,1,1,.4,2,-.3,2,.5,2,.3,2,1,1,.4,2,1.2,2,.5,2,2,2,1.4,2,2.5,3,5,5,1,1,5,2];
const exprPvt = [-.3,1,5,1,.2,10,-.3,2,.2,6,-.6,1,.2,3,-.6,1,.2,5,-.3,3,.2,3,-.6,1,.2,6,.7,1,.2,9,-.3,2,.2,6,.7,1,-.3,4,.2,5,.5,1,.2,3,-.3,3,5,1,-.3,8,.5,1,-.3,9,.4,1,-.3,12,-.6,1,-.3,20,-.6,1,-.3,8,-.6,1,-.3,5,.4,1,.6,1,-.3,10,-.6,1,-.3,7,2,1,-.3,9,-.6,1,-.3,4,-.6,1,-.3,5,.8,1,-.3,12,-.6,1,-.3,9,1.5,1,-.3,8,-.6,1,-.3,6,-.6,1,-.3,7];
const exprDleu = [5,6,3,2,2,3,1.5,2,3,1,1.5,4,3,1,1.5,3,5,1,1,4,2,2,1,4,.6,3,1.5,2,.8,4,.4,3,1.5,2,.4,5,1,1,.3,3,1,1,.2,3,-.3,3,.8,1,.2,2,1,1,-.3,2,-.6,3,-.3,2,-.6,2,-.3,4,-.6,1,-.3,2,-.9,2,-.3,3,-1.2,3,-.6,2,-.3,3,-.9,4,-.3,3,-.6,2,-1,2,-.3,4,-.6,5,-.3,3,-1,2,-.6,3,-.3,5,-.6,2,-1.2,2,-.6,2,-.3,2,-1,2,-.6,2,-.3,4,-1.5,2,-.6,2,-.3,3,-1.5,3,-1,8,-.3,3,-.8,2,-.3,4,-1.2,2,-.6,3,-1.5,2,-.3,2,-1,2,-.6,2,-.3,3,-1.5,2,-1,2,-.3,3,-2,3,-1,2,-.6,2];
const exprTmem = [-.3,1,-.6,2,-.3,2,-.6,3,.2,2,-.6,2,-.3,3,-.6,1,-.3,2,-.6,1,-.3,3,-.6,2,-.3,2,-.6,5,-.3,2,-.6,1,-.3,2,-.6,6,-.3,4,-.6,16,-.3,3,-.6,9,-.3,5,-.6,3,.3,1,-.6,3,-.3,2,.4,1,-.3,4,-.6,2,.5,1,-.3,2,-.6,1,-.3,5,-.6,1,.4,1,-.3,5,-.6,1,-.3,3,-.6,2,.5,1,-.3,6,.3,1,-.3,3,.8,2,.3,1,-.3,3,1,1,-.3,5,.8,1,-.3,2,.4,1,-.3,4,2,1,-.3,3,1,1,-.3,6,2,1,-.3,3,.5,1,-.3,3,.8,1,-.3,2,1,1,-.3,6,3,1,.8,1,-.3,3,2,1,-.3,5,1,1,-.3,3,.5,1,2,1,-.3,2,2,1,-.3,3,3,1,.3,2,-.3,3,5,1,-.3,5,3,1,-.6,2];
const exprFlj = [-.3,15,.5,1,-.3,66,.8,1,-.3,4,.3,1,-.3,113,.5,1,-.3,27,.3,1,-.3,26,3,2,-.3,2,.8,1,-.3,3,3,1,-.3,12,1.5,2,-.3,17,5,1,-.3,4,4,1,-.3,13,5,1,-.3,2];

/* ---------- Panel D data ---------- */
const dLoc = [-4,-4,-3,-4,-3,-4,-3,-2.5,-3,-4,-4,-2,-3,-2,-4,-3,-4,-1,-4,.3,-1.5,-2,-2,-1.5,-1.5,-1,-2,-1,-1,-1,-.8,-.6,-.5,-2,-1,.5,-4,.6,-1,-3,-2,-.3,-.2,.5,-3,-4,-1.5,4,3,4,.8,3,-.5,1,-2,-.8,.5,-1,3,2,1.5,2,4,2,-1.5,4,4,4,4,4,4,4,4,4,4,4];
const dPvt = [.8,.8,4,-2,-1,-1.5,-3,-1.5,-2,4,-1,.5,-1,3,-2,4,4,-1.5,-2,-1,3,-1,1,4,-2,.6,3,-3,-2,-1,1,-1.5,.5,-1,.8,.3,-1,-3,-2.5,-1,-4,4,-2,-1.5,-1,-3,.8,4,-4,-3,-1,-4,-2,-3,-1.5,-1,-1.5,-2,-3,-1,-4,-1,-.5,-.6,-1,.3,-4,1.5,-1,-.8,-1.5,-2,-4,-3,-4,.8];
const dDleu = [4,4,3,3,.8,4,4,2,3,.5,1,.4,2,1.5,3,2.5,-.8,-1.5,1,.6,.8,.3,.8,4,3,1,3,-.6,-1,-.7,.3,-.5,-.5,.8,.5,.6,.3,-4,-2,-4,1,-4,-1,-3,-1,-2,-4,-3,4,3,3,-4,-1,-1.5,-3,-4,-4,-3,-4,-1,-1.5,-4,-2,-1,-4,.5,-4,-4,-2,-3,-4,-1,-3,-4,-4,-4];
const dTmem = [-3,-4,4,-3,-2,-1,.6,-4,.5,-4,-3,.8,-4,-3,4,-4,4,-4,-3,-2,-2,-3,4,-2,-4,.8,1.5,-3,-1,-2,1,1,-1,-3,-2,4,-.6,-.5,-.8,-1,-1,-.8,-3,-1,4,.7,4,-4,-2,-4,-3,-1,-2,-2,2,4,3,2,-1,4,-1,4,-2,2,4,-2,-1,2,-1,2,4,3,4,4,3,.8];
const dFlj = [-4,4,-4,-1,-4,-2,-1,.5,-3,4,4,.8,-4,.5,-4,-2,4,-1,-4,1,1,-.5,1,-2,-4,.5,1,4,-4,-1,3,1,.6,-4,.5,-4,-3,-1,3,-3,-1,.8,-4,-1,2,2,2,2,4,-4,4,.8,1.5,.7,2,-4,-1,-3,4,4,3,-4,4,-1,-.5,-1,.5,-3,-1,4,-3,-4,4,-1,-4,1];
const dRunsN = [7,2,3,1,3,2,3,1,2,2,2,1,3,2,2,3,4,3,2,1,1,1,1,1,2,2,2,1,2,2,1,3,2,1,1,1,2,2,1,2,4];
const dRunsT = [2,2,5,1,3,1,4,1,1,1,9,1,1,1,4,1,1,1,3,1,15,1,1,1,4,1,2,1,1,1,2];
const dRunsGender = [1,1,1,8,1,2,1,3,2,1,1,1,1,5,2,1,1,1,1,4,1,1,1,3,1,1,2,2,1,1,1,4,1,2,1,4,1,2,1,2,1,3,1,5,2,3,1,6,2];
const dRunsAge = [1,2,2,2,1,1,5,1,1,1,1,6,6,1,1,1,1,3,2,5,2,3,1,4,2,1,1,1,1,3,2,2,1,1,2,2,1,1,1,4,2];
const dRunsRisk = [38,38];

/* ---------- Panel E data ---------- */
const forestNames = ["T","RiskScore","N","M","Grade","Gender","FPI","Age"];
const forestHR = [1.425,3.85,1.49,3.05,1.19,2.05,.725,1.08];
const forestLow = [.92,2.46,1.16,1.68,.44,1.26,.275,.94];
const forestHigh = [1.94,5.28,1.83,4.43,1.94,2.84,1.175,1.22];
const forestP = [.1,.005,.01,.005,.62,.008,.22,.005];
const forestTicks = [1,3];

/* ---------- helpers ---------- */
const NS = 'http://www.w3.org/2000/svg';
const root = document.getElementById('marks');
function add(parent, tag, attrs, name, text) {
  const n = document.createElementNS(NS, tag);
  for (const k in attrs) n.setAttribute(k, attrs[k]);
  
  
  if (text !== undefined) n.textContent = text;
  parent.appendChild(n);
  return n;
}
function group(name) { return add(root, 'g', {}, name); }
function lin(d0, d1, r0, r1) { return v => r0 + (v - d0) * (r1 - r0) / (d1 - d0); }
function xTicks(g, sx, vals, labels, y0, len, ly, fs, prefix) {
  vals.forEach((v, i) => {
    add(g, 'line', {x1: sx(v), x2: sx(v), y1: y0, y2: y0 + len, stroke: '#555', 'stroke-width': .7}, prefix + '-x-tick');
    add(g, 'text', {x: sx(v), y: ly, 'text-anchor': 'middle', style: 'font-size:' + fs + 'px;fill:#444'}, prefix + '-x-tick-label', labels[i]);
  });
}
function yTicksRot(g, sy, vals, labels, x0, len, lx, fs, prefix) {
  vals.forEach((v, i) => {
    add(g, 'line', {x1: x0 - len, x2: x0, y1: sy(v), y2: sy(v), stroke: '#555', 'stroke-width': .7}, prefix + '-y-tick');
    add(g, 'text', {transform: 'translate(' + lx + ' ' + sy(v) + ') rotate(-90)', 'text-anchor': 'middle', style: 'font-size:' + fs + 'px;fill:#444'}, prefix + '-y-tick-label', labels[i]);
  });
}
function box(g, x0, y0, x1, y1, name) {
  add(g, 'rect', {x: x0, y: y0, width: x1 - x0, height: y1 - y0, fill: 'none', stroke: '#666', 'stroke-width': 1}, name);
}
function riskPanel(name, vals, cut, sx, sy, box4, xt, yt, yLabel, hy) {
  const g = group(name);
  box(g, box4[0], box4[1], box4[2], box4[3], name + '-box');
  vals.forEach((v, i) => {
    add(g, 'circle', {cx: sx(i + 1), cy: sy(v), r: 1.25, fill: i < cut ? '#00f' : '#f00'}, name + '-point');
  });
  add(g, 'line', {x1: sx(cut), x2: sx(cut), y1: box4[1], y2: box4[3], stroke: '#444', 'stroke-width': .8, 'stroke-dasharray': '2 1.5'}, name + '-cut-vline');
  add(g, 'line', {x1: box4[0], x2: box4[2], y1: sy(vals[cut - 1]), y2: sy(vals[cut - 1]), stroke: '#444', 'stroke-width': .8, 'stroke-dasharray': '2 1.5'}, name + '-cut-hline');
  xTicks(g, sx, xt, xt.map(String), box4[3], 3, 150.7, 7.5, name);
  yTicksRot(g, sy, yt, yLabel, box4[0], 3, box4[0] - 8, 7.5, name);
}
function stepPts(T, S, end) {
  const pts = [];
  T.forEach((t, i) => {
    const nx = i + 1 < T.length ? T[i + 1] : end;
    pts.push([t, S[i]]);
    pts.push([nx, S[i]]);
  });
  return pts;
}
function kmPanel(name, sx, sy, ax, series, yTickVals, xTickVals) {
  const g = group(name);
  series.forEach(s => {
    const up = stepPts(s.upT, s.upS, s.bandEnd), lo = stepPts(s.loT, s.loS, s.bandEnd).reverse();
    const d = up.concat(lo).map(p => sx(p[0]).toFixed(1) + ',' + sy(p[1]).toFixed(1)).join(' ');
    add(g, 'polygon', {points: d, fill: s.color, 'fill-opacity': .3}, name + '-' + s.key + '-ci-band');
  });
  series.forEach(s => {
    const pts = stepPts(s.T, s.S, s.end);
    add(g, 'polyline', {points: pts.map(p => sx(p[0]).toFixed(1) + ',' + sy(p[1]).toFixed(1)).join(' '), fill: 'none', stroke: s.color, 'stroke-width': 1.3}, name + '-' + s.key + '-curve');
    s.censor.forEach(t => {
      let v = s.S[0];
      s.T.forEach((tt, i) => { if (tt <= t) v = s.S[i]; });
      add(g, 'path', {d: 'M' + sx(t) + ' ' + (sy(v) - 2.6) + 'v5.2M' + (sx(t) - 2) + ' ' + sy(v) + 'h4', stroke: s.color, 'stroke-width': .7, fill: 'none'}, name + '-' + s.key + '-censor');
    });
  });
  add(g, 'path', {d: 'M' + ax.left + ' ' + ax.top + 'V' + ax.bottom + 'H' + ax.right, fill: 'none', stroke: '#666', 'stroke-width': 1.5}, name + '-axes');
  yTickVals.forEach(v => {
    add(g, 'line', {x1: ax.left - 2, x2: ax.left, y1: sy(v), y2: sy(v), stroke: '#555', 'stroke-width': .7}, name + '-y-tick');
    add(g, 'text', {x: ax.left - 4, y: sy(v) + 2.8, 'text-anchor': 'end', style: 'font-size:8px;fill:#333'}, name + '-y-tick-label', v.toFixed(2));
  });
  xTickVals.forEach(v => {
    add(g, 'line', {x1: sx(v), x2: sx(v), y1: ax.bottom, y2: ax.bottom + 2, stroke: '#555', 'stroke-width': .7}, name + '-x-tick');
    add(g, 'text', {x: sx(v), y: ax.bottom + 7.6, 'text-anchor': 'middle', style: 'font-size:8px;fill:#333'}, name + '-x-tick-label', String(v));
  });
}
function riskTable(name, sx, times, high, low, left, right) {
  const g = group(name);
  add(g, 'path', {d: 'M' + left + ' 524V545.7H' + right, fill: 'none', stroke: '#666', 'stroke-width': 1.5}, name + '-axes');
  times.forEach((t, i) => {
    add(g, 'text', {x: sx(t), y: 532.3, 'text-anchor': 'middle', style: 'font-size:8.5px;fill:#f33'}, name + '-high-count', high[i]);
    add(g, 'text', {x: sx(t), y: 542.3, 'text-anchor': 'middle', style: 'font-size:8.5px;fill:#33f'}, name + '-low-count', low[i]);
    add(g, 'line', {x1: sx(t), x2: sx(t), y1: 545.7, y2: 547.7, stroke: '#555', 'stroke-width': .7}, name + '-x-tick');
    add(g, 'text', {x: sx(t), y: 553.3, 'text-anchor': 'middle', style: 'font-size:8px;fill:#333'}, name + '-x-tick-label', String(t));
  });
}
function rocLine(g, sx, sy, xs, ys, color, name) {
  add(g, 'polyline', {points: xs.map((x, i) => sx(x).toFixed(1) + ',' + sy(ys[i]).toFixed(1)).join(' '), fill: 'none', stroke: color, 'stroke-width': 1.2}, name);
}
function hexMix(a, b, t) {
  const m = (x, y) => Math.round(x + (y - x) * t);
  return 'rgb(' + m(a[0], b[0]) + ',' + m(a[1], b[1]) + ',' + m(a[2], b[2]) + ')';
}
function divColor(v, lim) {
  const t = Math.max(-1, Math.min(1, v / lim));
  return t < 0 ? hexMix([255, 255, 255], [0, 0, 255], -t) : hexMix([255, 255, 255], [255, 0, 0], t);
}
function drawAltRuns(g, runs, colors, x0, x1, y, h, name) {
  const total = runs.reduce((a, b) => a + b, 0);
  const sx = lin(0, total, x0, x1);
  let at = 0;
  runs.forEach((r, i) => {
    add(g, 'rect', {x: sx(at), y: y, width: sx(r) - x0 + .25, height: h, fill: colors[i % 2]}, name);
    at += r;
  });
}
function drawCatRuns(g, flat, colors, x0, x1, y, h, name) {
  let total = 0;
  for (let i = 1; i < flat.length; i += 2) total += flat[i];
  const sx = lin(0, total, x0, x1);
  let at = 0;
  for (let i = 0; i < flat.length; i += 2) {
    add(g, 'rect', {x: sx(at), y: y, width: sx(flat[i + 1]) - x0 + .25, height: h, fill: colors[flat[i]]}, name);
    at += flat[i + 1];
  }
}
function drawExprRuns(g, flat, x0, x1, y, h, lim, name) {
  let total = 0;
  for (let i = 1; i < flat.length; i += 2) total += flat[i];
  const sx = lin(0, total, x0, x1);
  let at = 0;
  for (let i = 0; i < flat.length; i += 2) {
    add(g, 'rect', {x: sx(at), y: y, width: sx(flat[i + 1]) - x0 + .25, height: h, fill: divColor(flat[i], lim)}, name);
    at += flat[i + 1];
  }
}

/* ---------- Panel A ---------- */
const sxRiskA = lin(0, 300, 51, 281.7);
const syRiskA = lin(0, 1, 105.7, 66.3);
riskPanel('a-risk-plot', riskA, 159, sxRiskA, syRiskA, [42.3, 47.3, 305.7, 136], riskTicksA, riskYTicksA, ['-0.5', '0.0', '0.5', '1.0']);
const gSA = group('a-survival-plot');
const sySurvA = lin(0, 10, 276, 194);
box(gSA, 42.3, 190.7, 305.7, 279.3, 'a-survival-box');
survTimeA.forEach((t, i) => {
  add(gSA, 'circle', {cx: sxRiskA(i + 1), cy: sySurvA(t), r: 1.9, fill: survDeadA[i] === '1' ? '#f00' : '#00f'}, 'a-survival-point');
});
add(gSA, 'line', {x1: sxRiskA(159), x2: sxRiskA(159), y1: 190.7, y2: 279.3, stroke: '#444', 'stroke-width': .8, 'stroke-dasharray': '2 1.5'}, 'a-survival-cut-vline');
xTicks(gSA, sxRiskA, riskTicksA, riskTicksA.map(String), 279.3, 3, 294, 7.5, 'a-survival');
yTicksRot(gSA, sySurvA, survYTicksA, survYTicksA.map(String), 42.3, 3, 34.3, 7.5, 'a-survival');

const sxKmA = lin(0, 10, 65, 308.7);
const syKm = lin(0, 1, 478.7, 359.3);
kmPanel('a-km-plot', sxKmA, syKm, {left: 53, top: 353.3, bottom: 484.3, right: 320.7}, [
  {key: 'high', color: '#f00', T: kmHighTimeA, S: kmHighSurvA, end: 9.75, upT: kmHighUpTimeA, upS: kmHighUpSurvA, loT: kmHighLoTimeA, loS: kmHighLoSurvA, bandEnd: 9.71, censor: censorHighA},
  {key: 'low', color: '#00f', T: kmLowTimeA, S: kmLowSurvA, end: 10.25, upT: kmLowUpTimeA, upS: kmLowUpSurvA, loT: kmLowLoTimeA, loS: kmLowLoSurvA, bandEnd: 10.19, censor: censorLowA}
], [0, .25, .5, .75, 1], tableTimesA);
riskTable('a-risk-table', sxKmA, tableTimesA, atRiskHighA, atRiskLowA, 53, 320.7);

const gRA = group('a-roc-plot');
const sxRA = lin(0, 1, 54.3, 290.3), syRA = lin(0, 1, 798, 612.3);
box(gRA, 45, 604.7, 299.3, 805, 'a-roc-box');
rocLine(gRA, sxRA, syRA, [-.0394, 1.038], [-.0394, 1.038], '#333', 'a-roc-diagonal');
rocLine(gRA, sxRA, syRA, rocRiskAx, rocRiskAy, '#f33', 'a-roc-risk');
rocLine(gRA, sxRA, syRA, rocFpiAx, rocFpiAy, '#f90', 'a-roc-fpi');
rocLine(gRA, sxRA, syRA, rocAgeAx, rocAgeAy, '#c5e03c', 'a-roc-age');
rocLine(gRA, sxRA, syRA, rocGenderAx, rocGenderAy, '#7de83c', 'a-roc-gender');
rocLine(gRA, sxRA, syRA, rocGradeAx, rocGradeAy, '#3fe56f', 'a-roc-grade');
rocLine(gRA, sxRA, syRA, rocStageAx, rocStageAy, '#3fe5e0', 'a-roc-stage');
rocLine(gRA, sxRA, syRA, rocTAx, rocTAy, '#3f8ff0', 'a-roc-t');
rocLine(gRA, sxRA, syRA, rocMAx, rocMAy, '#3f1fe0', 'a-roc-m');
rocLine(gRA, sxRA, syRA, rocNAx, rocNAy, '#d03fe8', 'a-roc-n');
const rocTicks = [0, .2, .4, .6, .8, 1];
const rocLabels = ['0.0', '0.2', '0.4', '0.6', '0.8', '1.0'];
xTicks(gRA, sxRA, rocTicks, rocLabels, 805, 3, 822, 8.5, 'a-roc');
yTicksRot(gRA, syRA, rocTicks, rocLabels, 45, 3, 35, 8.5, 'a-roc');

/* ---------- Panel B ---------- */
const sxRiskB = lin(0, 60, 379.3, 574.3);
const syRiskB = lin(.6, 1.1, 124, 51);
riskPanel('b-risk-plot', riskB, 38, sxRiskB, syRiskB, [372.3, 47.3, 636.7, 136], riskTicksB, riskYTicksB, ['0.6', '0.7', '0.8', '0.9', '1.0', '1.1']);
const gSB = group('b-survival-plot');
const sxSurvB = lin(0, 60, 380, 575);
const sySurvB = lin(0, 7, 276.7, 194);
box(gSB, 373.3, 190.7, 636.7, 279.3, 'b-survival-box');
survTimeB.forEach((t, i) => {
  add(gSB, 'circle', {cx: sxSurvB(survPatientB[i]), cy: sySurvB(t), r: 1.9, fill: i >= survDeadCountStartB ? '#f00' : '#00f'}, 'b-survival-point');
});
add(gSB, 'line', {x1: sxSurvB(38), x2: sxSurvB(38), y1: 190.7, y2: 279.3, stroke: '#444', 'stroke-width': .8, 'stroke-dasharray': '2 1.5'}, 'b-survival-cut-vline');
xTicks(gSB, sxSurvB, riskTicksB, riskTicksB.map(String), 279.3, 3, 294, 7.5, 'b-survival');
yTicksRot(gSB, sySurvB, survYTicksB, survYTicksB.map(String), 373.3, 3, 365.3, 7.5, 'b-survival');

const sxKmB = lin(0, 8, 396, 639.3);
kmPanel('b-km-plot', sxKmB, syKm, {left: 384, top: 353.3, bottom: 484.3, right: 651.7}, [
  {key: 'high', color: '#f00', T: kmHighTimeB, S: kmHighSurvB, end: 7.15, upT: kmHighUpTimeB, upS: kmHighUpSurvB, loT: kmHighLoTimeB, loS: kmHighLoSurvB, bandEnd: 7.07, censor: censorHighB},
  {key: 'low', color: '#00f', T: kmLowTimeB, S: kmLowSurvB, end: 6.97, upT: kmLowUpTimeB, upS: kmLowUpSurvB, loT: kmLowLoTimeB, loS: kmLowLoSurvB, bandEnd: 6.93, censor: censorLowB}
], [0, .25, .5, .75, 1], tableTimesB);
riskTable('b-risk-table', sxKmB, tableTimesB, atRiskHighB, atRiskLowB, 384, 651.7);

const gRB = group('b-roc-plot');
const sxRB = lin(0, 1, 386.7, 622.7), syRB = lin(0, 1, 799, 613.3);
box(gRB, 377.7, 605.7, 631.7, 806, 'b-roc-box');
rocLine(gRB, sxRB, syRB, [-.038, 1.038], [-.038, 1.038], '#333', 'b-roc-diagonal');
rocLine(gRB, sxRB, syRB, rocAgeBx, rocAgeBy, '#f0e23c', 'b-roc-age');
rocLine(gRB, sxRB, syRB, rocGenderBx, rocGenderBy, '#2fd82f', 'b-roc-gender');
rocLine(gRB, sxRB, syRB, rocTBx, rocTBy, '#3fe5e8', 'b-roc-t');
rocLine(gRB, sxRB, syRB, rocNBx, rocNBy, '#2a2ae8', 'b-roc-n');
rocLine(gRB, sxRB, syRB, rocRiskBx, rocRiskBy, '#f33', 'b-roc-risk');
xTicks(gRB, sxRB, rocTicks, rocLabels, 806, 3, 823.3, 8.5, 'b-roc');
yTicksRot(gRB, syRB, rocTicks, rocLabels, 377.7, 3, 367.5, 8.5, 'b-roc');

/* ---------- Panel C ---------- */
const gC = group('c-heatmap');
const cx0 = 694, cx1 = 1041.7;
const annotRowsC = [
  [runsN, ['#9bdc22', '#e07236'], 'n'],
  [runsM, ['#48f07c', '#e86500'], 'm'],
  [runsT, ['#db5c93', '#23527c'], 't'],
  [runsStage, ['#8a35f0', '#f9a36b'], 'stage'],
  [runsGrade, ['#55e655', '#2a22c4'], 'grade'],
  [runsGender, ['#7547ab', '#ff5cff'], 'gender'],
  [runsAge, ['#d96654', '#1c918f'], 'age'],
  [runsFpi, ['#ef3cb5', '#a4cf4c'], 'fpi'],
  [runsTmb, ['#383ac0', '#68d35a'], 'tmb'],
  [runsTide, ['#3ab832', '#a0db4e'], 'tide'],
  [runsEst, ['#f8aa5f', '#d02620'], 'estimate'],
  [runsImmune, ['#c84000', '#d45fdc'], 'immune']
];
annotRowsC.forEach((r, i) => {
  drawAltRuns(gC, r[0], r[1], cx0, cx1, 34.7 + i * 19.8, 17.3, 'c-annot-' + r[2] + '-cell');
});
const clusterColors = ['#0066ff', '#ff0000', '#ff9900', '#ef1593', '#0eb921', '#276a92', '#c88c12'];
drawCatRuns(gC, catRunsCluster, clusterColors, cx0, cx1, 34.7 + 12 * 19.8, 17.3, 'c-annot-cluster-cell');
drawCatRuns(gC, catRunsRisk, ['#0066ff', '#ff0000'], cx0, cx1, 34.7 + 13 * 19.8, 17.3, 'c-annot-risk-cell');
[[exprLoc, 'loc646588'], [exprPvt, 'pvt1'], [exprDleu, 'dleu1'], [exprTmem, 'tmem105'], [exprFlj, 'flj22447']].forEach((r, i) => {
  drawExprRuns(gC, r[0], cx0, cx1, 313.3 + i * 36.35, 36.35, 5, 'c-expr-' + r[1] + '-cell');
});

/* ---------- Panel D ---------- */
const gD = group('d-heatmap');
const dx0 = 689.3, dx1 = 979;
const sxD = lin(0, 76, dx0, dx1);
function dAnnot(runs, colors, y, name) {
  let col = 0;
  runs.forEach((r, i) => {
    for (let k = 0; k < r && col < 76; k++, col++) {
      add(gD, 'rect', {x: sxD(col), y: y, width: sxD(1) - dx0, height: 13.3, fill: colors[i % 2], stroke: '#aaa', 'stroke-width': .35}, name);
    }
  });
  for (; col < 76; col++) {
    add(gD, 'rect', {x: sxD(col), y: y, width: sxD(1) - dx0, height: 13.3, fill: colors[1], stroke: '#aaa', 'stroke-width': .35}, name);
  }
}
dAnnot(dRunsN, ['#c78a13', '#d35fd8'], 538, 'd-annot-n-cell');
dAnnot(dRunsT, ['#0fba22', '#276a92'], 552.7, 'd-annot-t-cell');
dAnnot(dRunsGender, ['#ff9900', '#ef1593'], 567.3, 'd-annot-gender-cell');
dAnnot(dRunsAge, ['#0066ff', '#ff0000'], 582, 'd-annot-age-cell');
dAnnot(dRunsRisk, ['#0066ff', '#ff0000'], 596.7, 'd-annot-risk-cell');
[[dLoc, 'loc646588'], [dPvt, 'pvt1'], [dDleu, 'dleu1'], [dTmem, 'tmem105'], [dFlj, 'flj22447']].forEach((r, i) => {
  r[0].forEach((v, c) => {
    add(gD, 'rect', {x: sxD(c), y: 612.3 + i * 51.4, width: sxD(1) - dx0, height: 51.4, fill: divColor(v, 3.2), stroke: '#aaa', 'stroke-width': .35}, 'd-expr-' + r[1] + '-cell');
  });
});

/* ---------- Panel E ---------- */
const gE = group('e-forest-plot');
const sxE = lin(1, 3, 1371.7, 1451.7);
const syE = i => 584 + i * 32.9;
const viridis = [[68,1,84],[71,45,123],[59,82,139],[44,114,142],[33,144,140],[39,173,129],[94,201,98],[170,220,50],[253,231,37]];
function pColor(p) {
  const t = Math.min(1, p / .62) * (viridis.length - 1);
  const i = Math.min(viridis.length - 2, Math.floor(t));
  return hexMix(viridis[i], viridis[i + 1], t - i);
}
add(gE, 'line', {x1: sxE(1), x2: sxE(1), y1: 565.7, y2: 832.7, stroke: '#000', 'stroke-width': 2.4, 'stroke-dasharray': '7 5'}, 'e-reference-line');
forestNames.forEach((nm, i) => {
  const c = pColor(forestP[i]);
  add(gE, 'line', {x1: sxE(forestLow[i]), x2: sxE(forestHigh[i]), y1: syE(i), y2: syE(i), stroke: c, 'stroke-width': 3}, 'e-ci-' + nm.toLowerCase());
  const hx = sxE(forestHR[i]), hy = syE(i);
  add(gE, 'polygon', {points: [hx - 4.6, hy, hx, hy - 4.6, hx + 4.6, hy, hx, hy + 4.6].join(' '), fill: c}, 'e-hr-' + nm.toLowerCase());
  add(gE, 'line', {x1: 1328, x2: 1333.3, y1: hy, y2: hy, stroke: '#222', 'stroke-width': 1}, 'e-y-tick');
  add(gE, 'text', {x: 1324, y: hy + 6, 'text-anchor': 'end', style: 'font-size:19.5px;font-weight:700;fill:#111'}, 'e-y-label-' + nm.toLowerCase(), nm);
});
add(gE, 'rect', {x: 1333.3, y: 565.7, width: 218.4, height: 267, fill: 'none', stroke: '#1a1a1a', 'stroke-width': 2}, 'e-plot-box');
forestTicks.forEach(t => {
  add(gE, 'line', {x1: sxE(t), x2: sxE(t), y1: 832.7, y2: 837, stroke: '#222', 'stroke-width': 1}, 'e-x-tick');
  add(gE, 'text', {x: sxE(t), y: 854, 'text-anchor': 'middle', style: 'font-size:19px;font-weight:700;fill:#111'}, 'e-x-tick-label', String(t));
});
</script>
</body></html>
